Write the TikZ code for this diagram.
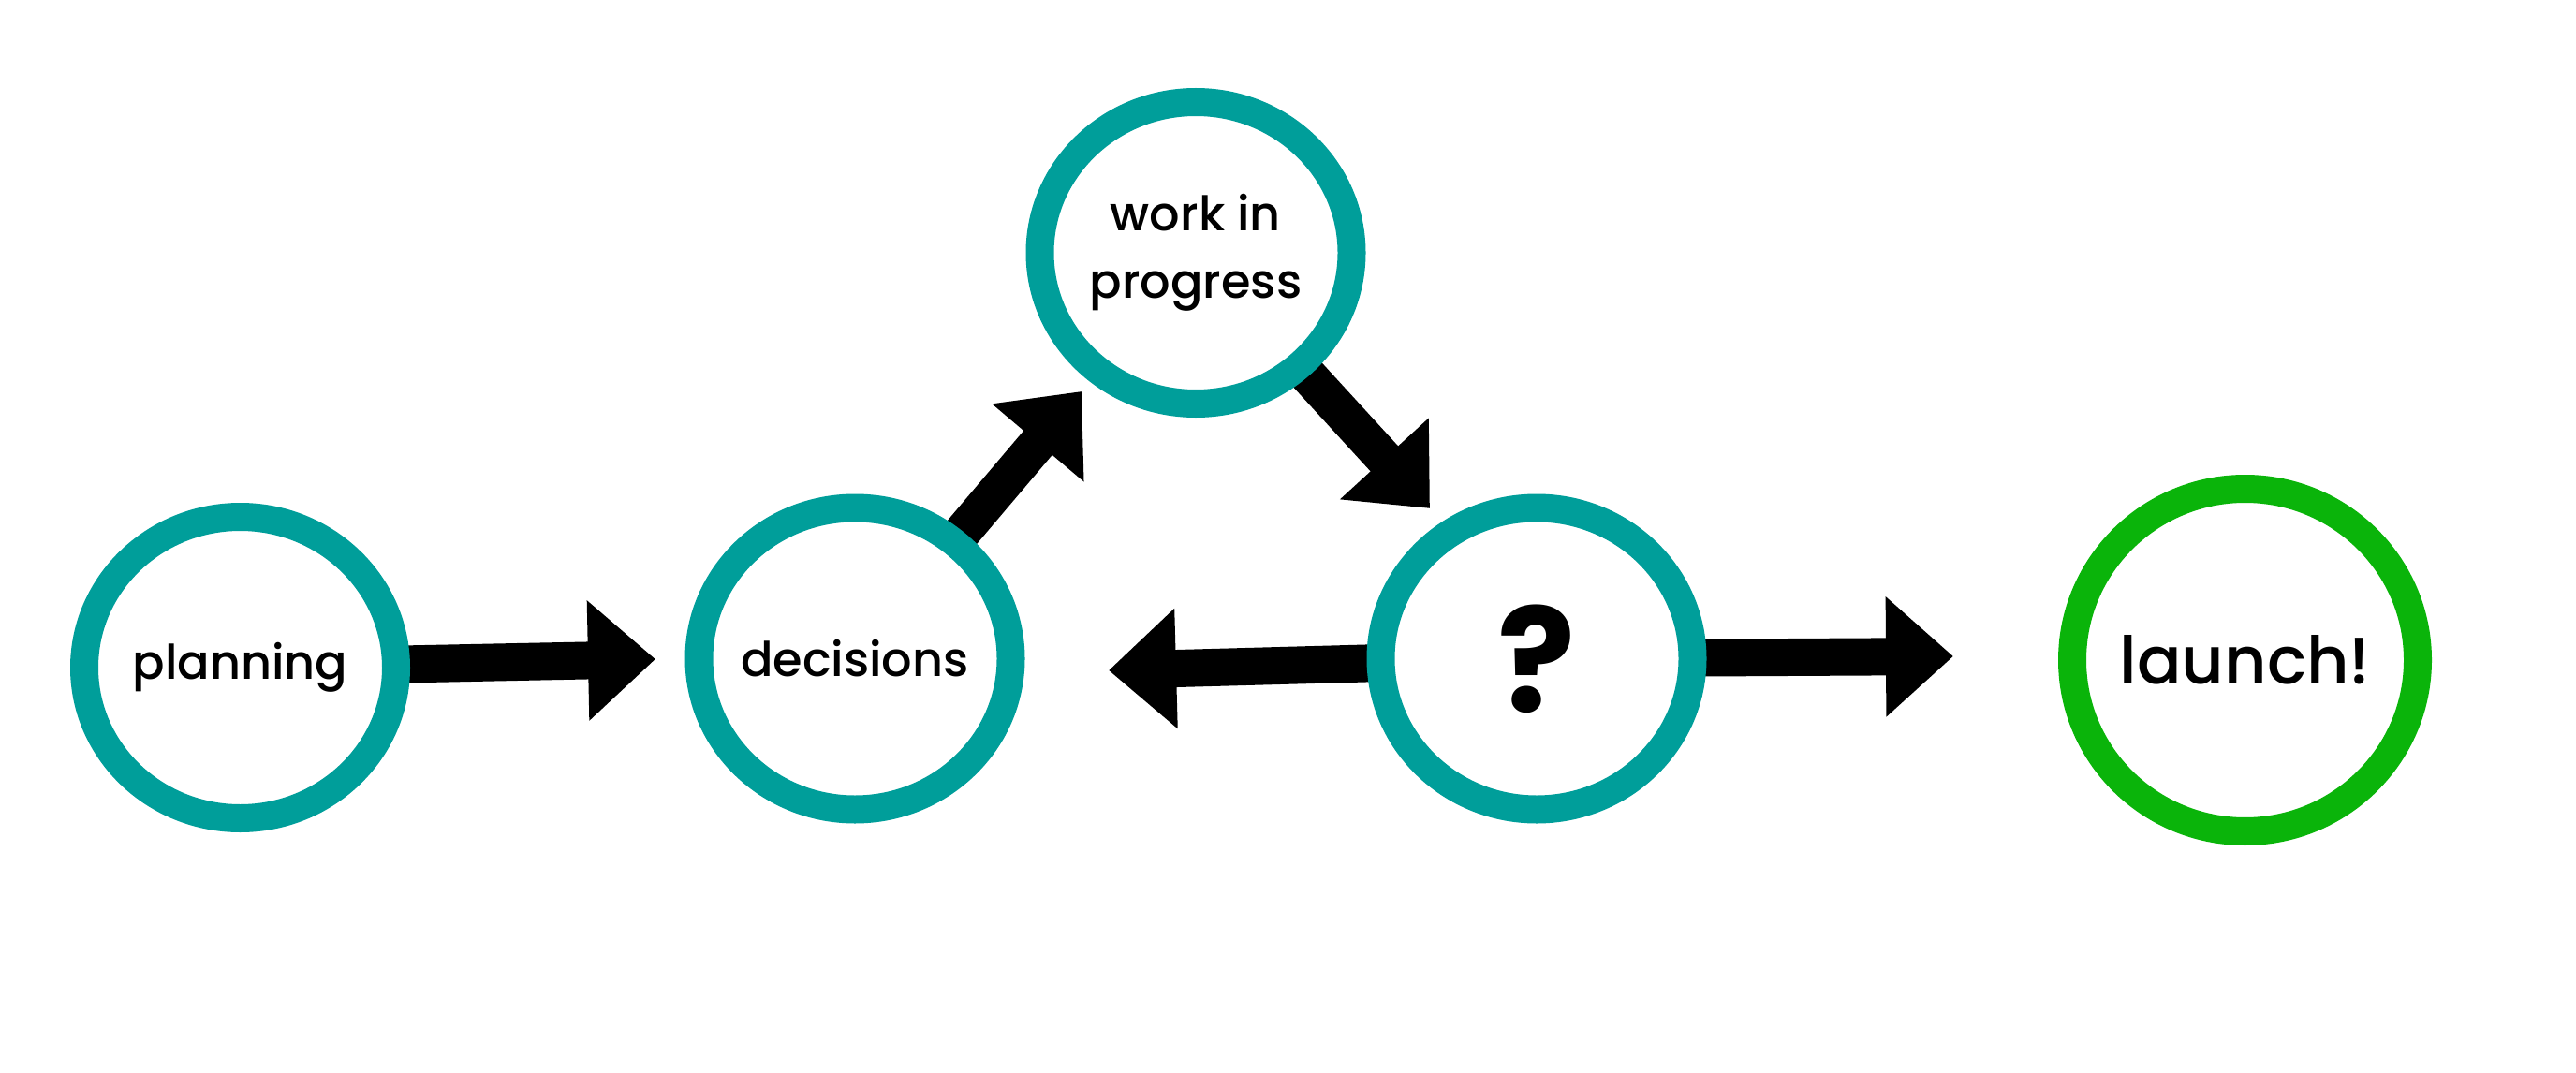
\documentclass[tikz,border=0pt]{standalone}
\usepackage{fontspec}
\setmainfont{Poppins}[UprightFont={* Medium}, BoldFont={* Bold}]
\usetikzlibrary{arrows.meta,shapes.geometric,backgrounds}
\definecolor{ringteal}{RGB}{0,158,154}
\definecolor{ringgreen}{RGB}{10,180,10}
\begin{document}
\begin{tikzpicture}[line join=round,
	font=\fontsize{14.5}{20.4}\selectfont,
	stagering/.style={ellipse, draw=ringteal, fill=white, line width=0.3cm,
		minimum width=3.33cm, minimum height=3.22cm, inner sep=-5mm, align=center},
	bigarrow/.style={line width=0.4cm, -{Triangle[width=1.24cm,length=0.72cm]}}]
	\useasboundingbox (0,0) rectangle (27.51,11.45);
	% Các bước
	\node[stagering] (plan) at (2.565,4.32) {planning};
	\node[stagering] (dec) at (9.13,4.415) {decisions};
	\node[stagering] (wip) at (12.77,8.75) {work in\\progress};
	\node[stagering] (qq) at (16.41,4.415) {\fontsize{44}{44}\selectfont\bfseries ?};
	\node[stagering, draw=ringgreen, minimum width=3.69cm, minimum height=3.66cm]
		(launch) at (23.975,4.40) {\fontsize{20}{24}\selectfont launch!};
	% Đầu mũi tên
	\coordinate (t1) at (7.00,4.41);
	\coordinate (t2) at (11.55,7.27);
	\coordinate (t3) at (15.27,6.02);
	\coordinate (t4) at (11.84,4.29);
	\coordinate (t5) at (20.86,4.44);
	\begin{scope}[on background layer]
		\draw[bigarrow] (plan.center)--(t1);
		\draw[bigarrow] (dec.center)--(t2);
		\draw[bigarrow] (wip.center)--(t3);
		\draw[bigarrow] (qq.center)--(t4);
		\draw[bigarrow] (qq.center)--(t5);
	\end{scope}
\end{tikzpicture}
\end{document}
